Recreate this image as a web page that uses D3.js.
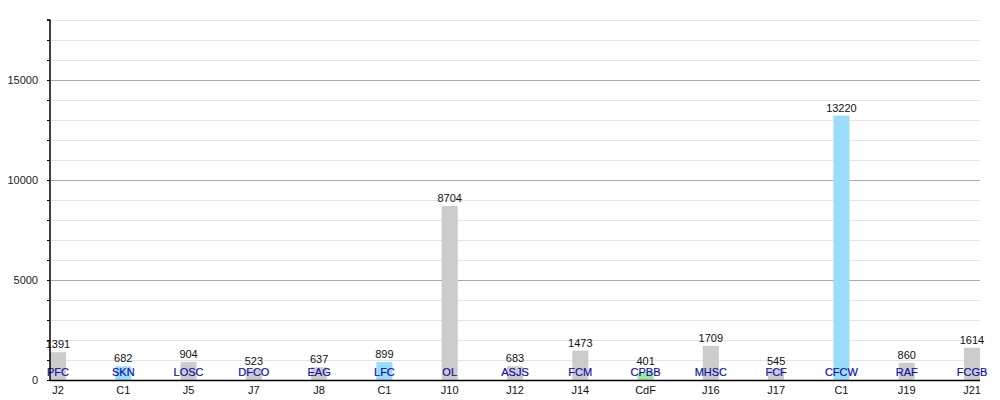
<!DOCTYPE html>
<html><head><meta charset="utf-8">
<script src="https://cdn.jsdelivr.net/npm/d3@7"></script>
<style>body{margin:0;background:#fff}svg{display:block;font-family:"Liberation Sans",Arial,sans-serif}</style>
</head><body><svg id="c" width="1000" height="400"></svg>
<script>
const rounds = ["J2","C1","J5","J7","J8","C1","J10","J12","J14","CdF","J16","J17","C1","J19","J21"];
const teams = ["PFC","SKN","LOSC","DFCO","EAG","LFC","OL","ASJS","FCM","CPBB","MHSC","FCF","CFCW","RAF","FCGB"];
const values = [1391,682,904,523,637,899,8704,683,1473,401,1709,545,13220,860,1614];
const competitions = ["league","cup","league","league","league","cup","league","league","league","cdf","league","league","cup","league","league"];
const yTicks = [0,5000,10000,15000];

const colorMap = {league:"#cccccc", cup:"#99ddfb", cdf:"#9ee89e"};
const svg = d3.select("#c");
const mLeft=50, mRight=980, mTop=20, mBottom=380;
const idx = d3.range(values.length);
const x = d3.scaleBand().domain(idx).range([mLeft,mRight]).paddingInner(0.755).paddingOuter(0);
const y = d3.scaleLinear().domain([0,18000]).range([mBottom,mTop]);

// gridlines
const minor = d3.range(1000,18001,1000).filter(v=>v%5000!==0);
svg.append("g").selectAll("line").data(minor).join("line")
  .attr("x1",mLeft).attr("x2",mRight).attr("y1",d=>y(d)+0.5).attr("y2",d=>y(d)+0.5)
  .attr("stroke","#e4e4e4").attr("stroke-width",1);
svg.append("g").selectAll("line").data([5000,10000,15000]).join("line")
  .attr("x1",mLeft).attr("x2",mRight).attr("y1",d=>y(d)+0.5).attr("y2",d=>y(d)+0.5)
  .attr("stroke","#ababab").attr("stroke-width",1);

// bars
svg.append("g").selectAll("rect").data(idx).join("rect")
  .attr("x",i=>x(i)).attr("width",x.bandwidth())
  .attr("y",i=>y(values[i])).attr("height",i=>y(0)-y(values[i]))
  .attr("fill",i=>colorMap[competitions[i]]);

// value labels
svg.append("g").selectAll("text").data(idx).join("text")
  .attr("x",i=>x(i)+x.bandwidth()/2).attr("y",i=>Math.min(y(values[i])-4, mBottom-15))
  .attr("text-anchor","middle").attr("font-size",11).attr("fill","#111")
  .text(i=>values[i]);

// team labels
svg.append("g").selectAll("text").data(idx).join("text")
  .attr("x",i=>x(i)+x.bandwidth()/2).attr("y",mBottom-4)
  .attr("text-anchor","middle").attr("font-size",11).attr("fill","#1010a8")
  .attr("stroke","#1010a8").attr("stroke-width",0.2)
  .text(i=>teams[i]);

// y axis
const yAxis = d3.axisLeft(y).tickValues(d3.range(0,18001,1000)).tickSize(3)
  .tickFormat(d=>yTicks.includes(d)?d:"");
const ga = svg.append("g").attr("transform",`translate(${mLeft},0)`).call(yAxis);
ga.select(".domain").attr("stroke","#000").attr("stroke-width",1.5).attr("d",`M-3,${mTop}H0V${mBottom}`);
ga.selectAll(".tick line").attr("stroke","#000");
ga.selectAll(".tick text").attr("font-size",11).attr("fill","#222").attr("x",-12)
  .attr("font-family","Liberation Sans, Arial, sans-serif");

// x axis
svg.append("line").attr("x1",mLeft).attr("x2",mRight).attr("y1",mBottom+0.5).attr("y2",mBottom+0.5)
  .attr("stroke","#000").attr("stroke-width",1.5);
svg.append("g").selectAll("text").data(idx).join("text")
  .attr("x",i=>x(i)+x.bandwidth()/2).attr("y",mBottom+14)
  .attr("text-anchor","middle").attr("font-size",11).attr("fill","#111")
  .text(i=>rounds[i]);
</script></body></html>
